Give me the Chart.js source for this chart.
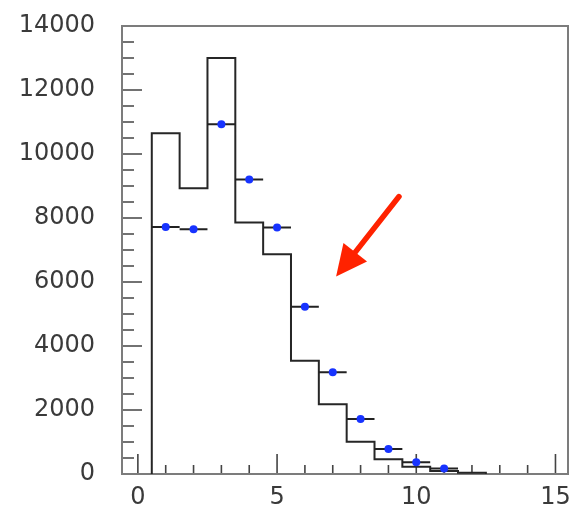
<!DOCTYPE html>
<html>
<head>
<meta charset="utf-8">
<script src="https://cdn.jsdelivr.net/npm/chart.js"></script>
<style>
  html, body { margin: 0; padding: 0; background: #fff; }
  #wrap { width: 572px; height: 506px; }
</style>
</head>
<body>
<div id="wrap"><canvas id="c" width="572" height="506"></canvas></div>
<script>
// histogram: bin centres (width 1) and contents
var binCenters = [1, 2, 3, 4, 5, 6, 7, 8, 9, 10, 11, 12];
var histCounts = [10650, 8930, 13000, 7860, 6870, 3540, 2180, 1010, 460, 230, 90, 40];
// data points, drawn with +-0.5 horizontal error bars
var pointX = [1, 2, 3, 4, 5, 6, 7, 8, 9, 10, 11];
var pointY = [7720, 7650, 10930, 9200, 7700, 5230, 3180, 1720, 780, 370, 170];
// axis tick labels
var xTickLabels = [0, 5, 10, 15];
var yTickLabels = [0, 2000, 4000, 6000, 8000, 10000, 12000, 14000];
// red arrow annotation (data coords)
var arrowFrom = [9.38, 8670];
var arrowTo = [7.12, 6170];

var halfWidth = 0.5;

// step outline of the histogram
var histLine = [{ x: binCenters[0] - halfWidth, y: 0 }];
binCenters.forEach(function(c, i){
  histLine.push({ x: c - halfWidth, y: histCounts[i] });
  histLine.push({ x: c + halfWidth, y: histCounts[i] });
});
histLine.push({ x: binCenters[binCenters.length - 1] + halfWidth, y: 0 });

// horizontal error bars, separated by gaps
var errLine = [];
pointX.forEach(function(c, i){
  errLine.push({ x: c - halfWidth, y: pointY[i] });
  errLine.push({ x: c + halfWidth, y: pointY[i] });
  errLine.push({ x: c + halfWidth, y: null });
});

var points = pointX.map(function(c, i){ return { x: c, y: pointY[i] }; });

var labelFont = { family: 'DejaVu Sans', size: 24 };
var labelColor = '#3a3a3a';
function plain(v){ return String(v); }

// ticks drawn inside the frame, plus the frame box (ROOT style)
var frameTicks = {
  id: 'frameTicks',
  beforeDatasetsDraw: function(chart){
    var ctx = chart.ctx, a = chart.chartArea, xs = chart.scales.x, ys = chart.scales.y;
    ctx.save();
    ctx.strokeStyle = '#444'; ctx.lineWidth = 1.6;
    ctx.beginPath();
    for (var v = 0; v <= 15; v++){
      var px = xs.getPixelForValue(v), len = (v % 5 === 0) ? 20 : 9;
      ctx.moveTo(px, a.bottom); ctx.lineTo(px, a.bottom - len);
    }
    for (var w = 0; w <= 14000; w += 500){
      var py = ys.getPixelForValue(w), l = (w % 2000 === 0) ? 20 : 12;
      ctx.moveTo(a.left, py); ctx.lineTo(a.left + l, py);
    }
    ctx.stroke();
    ctx.strokeStyle = '#7c7c7c'; ctx.lineWidth = 2;
    ctx.strokeRect(a.left, a.top, a.right - a.left, a.bottom - a.top);
    ctx.restore();
  }
};

var arrowPlugin = {
  id: 'arrow',
  afterDatasetsDraw: function(chart){
    var ctx = chart.ctx, xs = chart.scales.x, ys = chart.scales.y;
    var x0 = xs.getPixelForValue(arrowFrom[0]), y0 = ys.getPixelForValue(arrowFrom[1]);
    var x1 = xs.getPixelForValue(arrowTo[0]), y1 = ys.getPixelForValue(arrowTo[1]);
    var ang = Math.atan2(y1 - y0, x1 - x0), headLen = 31, headHalf = 15;
    var bx = x1 - headLen * Math.cos(ang), by = y1 - headLen * Math.sin(ang);
    ctx.save();
    ctx.strokeStyle = '#ff2200'; ctx.fillStyle = '#ff2200';
    ctx.lineWidth = 5.5; ctx.lineCap = 'round';
    ctx.beginPath(); ctx.moveTo(x0, y0); ctx.lineTo(bx + 4 * Math.cos(ang), by + 4 * Math.sin(ang)); ctx.stroke();
    ctx.beginPath();
    ctx.moveTo(x1, y1);
    ctx.lineTo(bx + headHalf * Math.sin(ang), by - headHalf * Math.cos(ang));
    ctx.lineTo(bx - headHalf * Math.sin(ang), by + headHalf * Math.cos(ang));
    ctx.closePath(); ctx.fill();
    ctx.restore();
  }
};

new Chart(document.getElementById('c').getContext('2d'), {
  type: 'line',
  data: {
    datasets: [
      { label: 'data', data: points, showLine: false, pointRadius: 4, pointBackgroundColor: '#1733ff', pointBorderWidth: 0 },
      { label: 'errors', data: errLine, borderColor: '#222', borderWidth: 2, pointRadius: 0, spanGaps: false, tension: 0 },
      { label: 'hist', data: histLine, borderColor: '#262626', borderWidth: 2, pointRadius: 0, tension: 0, fill: false }
    ]
  },
  options: {
    responsive: false,
    animation: false,
    events: [],
    layout: { padding: { top: 26, right: 2.5, left: 0, bottom: 0 } },
    plugins: { legend: { display: false }, tooltip: { enabled: false } },
    scales: {
      x: {
        type: 'linear', min: -0.57, max: 15.45,
        grid: { display: false, drawTicks: false }, border: { display: false },
        ticks: { font: labelFont, color: labelColor, padding: 9, maxRotation: 0, autoSkip: false, callback: plain },
        afterBuildTicks: function(s){ s.ticks = xTickLabels.map(function(v){ return { value: v }; }); },
        afterFit: function(s){ s.height = 32; s.paddingLeft = 0; s.paddingRight = 0; }
      },
      y: {
        type: 'linear', min: 0, max: 14000,
        grid: { display: false, drawTicks: false }, border: { display: false },
        ticks: { font: labelFont, color: labelColor, padding: 27, autoSkip: false, callback: plain },
        afterBuildTicks: function(s){ s.ticks = yTickLabels.map(function(v){ return { value: v }; }); },
        afterFit: function(s){ s.width = 122; s.paddingTop = 0; s.paddingBottom = 0; }
      }
    }
  },
  plugins: [frameTicks, arrowPlugin]
});
</script>
</body>
</html>
